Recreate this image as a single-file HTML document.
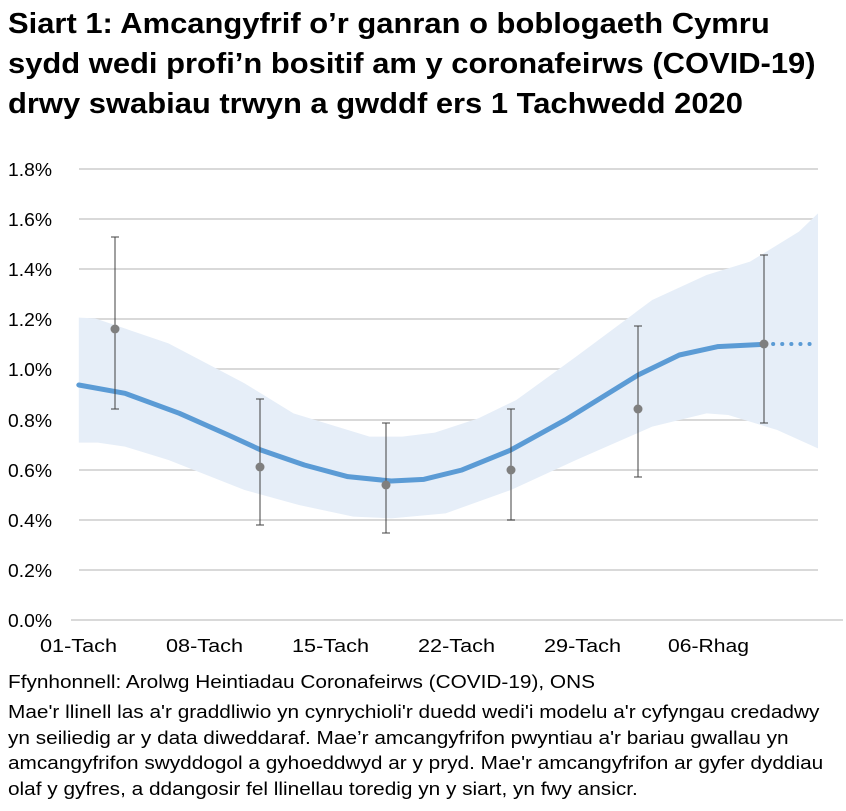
<!DOCTYPE html>
<html><head><meta charset="utf-8"><style>
body{margin:0;width:846px;height:811px;background:#fff;font-family:"Liberation Sans",Arial,sans-serif;overflow:hidden;position:relative}
.t{position:absolute;left:8px;top:4px;font-weight:bold;font-size:28.5px;line-height:40px;color:#000;white-space:nowrap;transform:scaleX(1.085);transform-origin:0 0}
.f{position:absolute;left:8px;font-size:18px;color:#000;white-space:nowrap;transform:scaleX(1.155);transform-origin:0 0}
</style></head><body>
<div class="t">Siart 1: Amcangyfrif o’r ganran o boblogaeth Cymru<br>sydd wedi profi’n bositif am y coronafeirws (COVID-19)<br>drwy swabiau trwyn a gwddf ers 1 Tachwedd 2020</div>
<svg width="846" height="811" style="position:absolute;left:0;top:0" font-family="Liberation Sans, Arial, sans-serif">
<g stroke="#d9d9d9" stroke-width="2">
<line x1="79" x2="818" y1="169" y2="169"/><line x1="79" x2="818" y1="219" y2="219"/><line x1="79" x2="818" y1="269" y2="269"/><line x1="79" x2="818" y1="319" y2="319"/><line x1="79" x2="818" y1="369" y2="369"/><line x1="79" x2="818" y1="420" y2="420"/><line x1="79" x2="818" y1="470" y2="470"/><line x1="79" x2="818" y1="520" y2="520"/><line x1="79" x2="818" y1="570" y2="570"/>
<line x1="71" x2="843" y1="620" y2="620"/>
</g>
<g font-size="18.5" fill="#000">
<text x="8" y="176" textLength="44" lengthAdjust="spacingAndGlyphs">1.8%</text><text x="8" y="226" textLength="44" lengthAdjust="spacingAndGlyphs">1.6%</text><text x="8" y="276" textLength="44" lengthAdjust="spacingAndGlyphs">1.4%</text><text x="8" y="326" textLength="44" lengthAdjust="spacingAndGlyphs">1.2%</text><text x="8" y="376" textLength="44" lengthAdjust="spacingAndGlyphs">1.0%</text><text x="8" y="427" textLength="44" lengthAdjust="spacingAndGlyphs">0.8%</text><text x="8" y="477" textLength="44" lengthAdjust="spacingAndGlyphs">0.6%</text><text x="8" y="527" textLength="44" lengthAdjust="spacingAndGlyphs">0.4%</text><text x="8" y="577" textLength="44" lengthAdjust="spacingAndGlyphs">0.2%</text><text x="8" y="627" textLength="44" lengthAdjust="spacingAndGlyphs">0.0%</text>
</g>
<g font-size="18.5" fill="#000">
<text x="40" y="652" textLength="77" lengthAdjust="spacingAndGlyphs">01-Tach</text><text x="166" y="652" textLength="77" lengthAdjust="spacingAndGlyphs">08-Tach</text><text x="292" y="652" textLength="77" lengthAdjust="spacingAndGlyphs">15-Tach</text><text x="418" y="652" textLength="77" lengthAdjust="spacingAndGlyphs">22-Tach</text><text x="544" y="652" textLength="77" lengthAdjust="spacingAndGlyphs">29-Tach</text><text x="668" y="652" textLength="81" lengthAdjust="spacingAndGlyphs">06-Rhag</text>
</g>
<g transform="translate(0,150) scale(0.5435,0.33333)">
<polygon fill="#e6eef8" points="145,503 175,505 310,580 450,700 540,790 680,860 740,860 800,848 880,805 950,750 1060,620 1200,450 1300,375 1380,335 1470,245 1505,190 1505,895 1430,840 1340,795 1300,790 1200,830 1060,930 940,1020 820,1090 720,1105 650,1100 550,1065 450,1020 310,930 230,890 180,878 145,878"/>
<polyline fill="none" stroke="#5b9bd5" stroke-width="5" vector-effect="non-scaling-stroke" stroke-linejoin="round" stroke-linecap="round" points="145,705 230,730 330,790 420,855 480,900 560,945 640,980 720,993 780,988 850,960 940,900 1040,810 1174,675 1250,615 1320,590 1405,583"/>
</g>
<line x1="764" x2="818" y1="344" y2="344" stroke="#5b9bd5" stroke-width="4" stroke-dasharray="0.1,9" stroke-linecap="round"/>
<g stroke="#404040" stroke-width="1">
<line x1="115" x2="115" y1="237" y2="409"/><line x1="111" x2="119" y1="237" y2="237"/><line x1="111" x2="119" y1="409" y2="409"/>
<line x1="260" x2="260" y1="399" y2="525"/><line x1="256" x2="264" y1="399" y2="399"/><line x1="256" x2="264" y1="525" y2="525"/>
<line x1="386" x2="386" y1="423" y2="533"/><line x1="382" x2="390" y1="423" y2="423"/><line x1="382" x2="390" y1="533" y2="533"/>
<line x1="511" x2="511" y1="409" y2="520"/><line x1="507" x2="515" y1="409" y2="409"/><line x1="507" x2="515" y1="520" y2="520"/>
<line x1="638" x2="638" y1="326" y2="477"/><line x1="634" x2="642" y1="326" y2="326"/><line x1="634" x2="642" y1="477" y2="477"/>
<line x1="764" x2="764" y1="255" y2="423"/><line x1="760" x2="768" y1="255" y2="255"/><line x1="760" x2="768" y1="423" y2="423"/>
</g>
<g fill="#7f7f7f">
<circle cx="115" cy="329" r="4.5"/><circle cx="260" cy="467" r="4.5"/><circle cx="386" cy="485" r="4.5"/><circle cx="511" cy="470" r="4.5"/><circle cx="638" cy="409" r="4.5"/><circle cx="764" cy="344" r="4.5"/>
</g>
</svg>
<div class="f" style="top:672px">Ffynhonnell: Arolwg Heintiadau Coronafeirws (COVID-19), ONS</div>
<div class="f" style="top:700px;line-height:25.5px">Mae'r llinell las a'r graddliwio yn cynrychioli'r duedd wedi'i modelu a'r cyfyngau credadwy<br>yn seiliedig ar y data diweddaraf. Mae’r amcangyfrifon pwyntiau a'r bariau gwallau yn<br>amcangyfrifon swyddogol a gyhoeddwyd ar y pryd. Mae'r amcangyfrifon ar gyfer dyddiau<br>olaf y gyfres, a ddangosir fel llinellau toredig yn y siart, yn fwy ansicr.</div>
</body></html>
